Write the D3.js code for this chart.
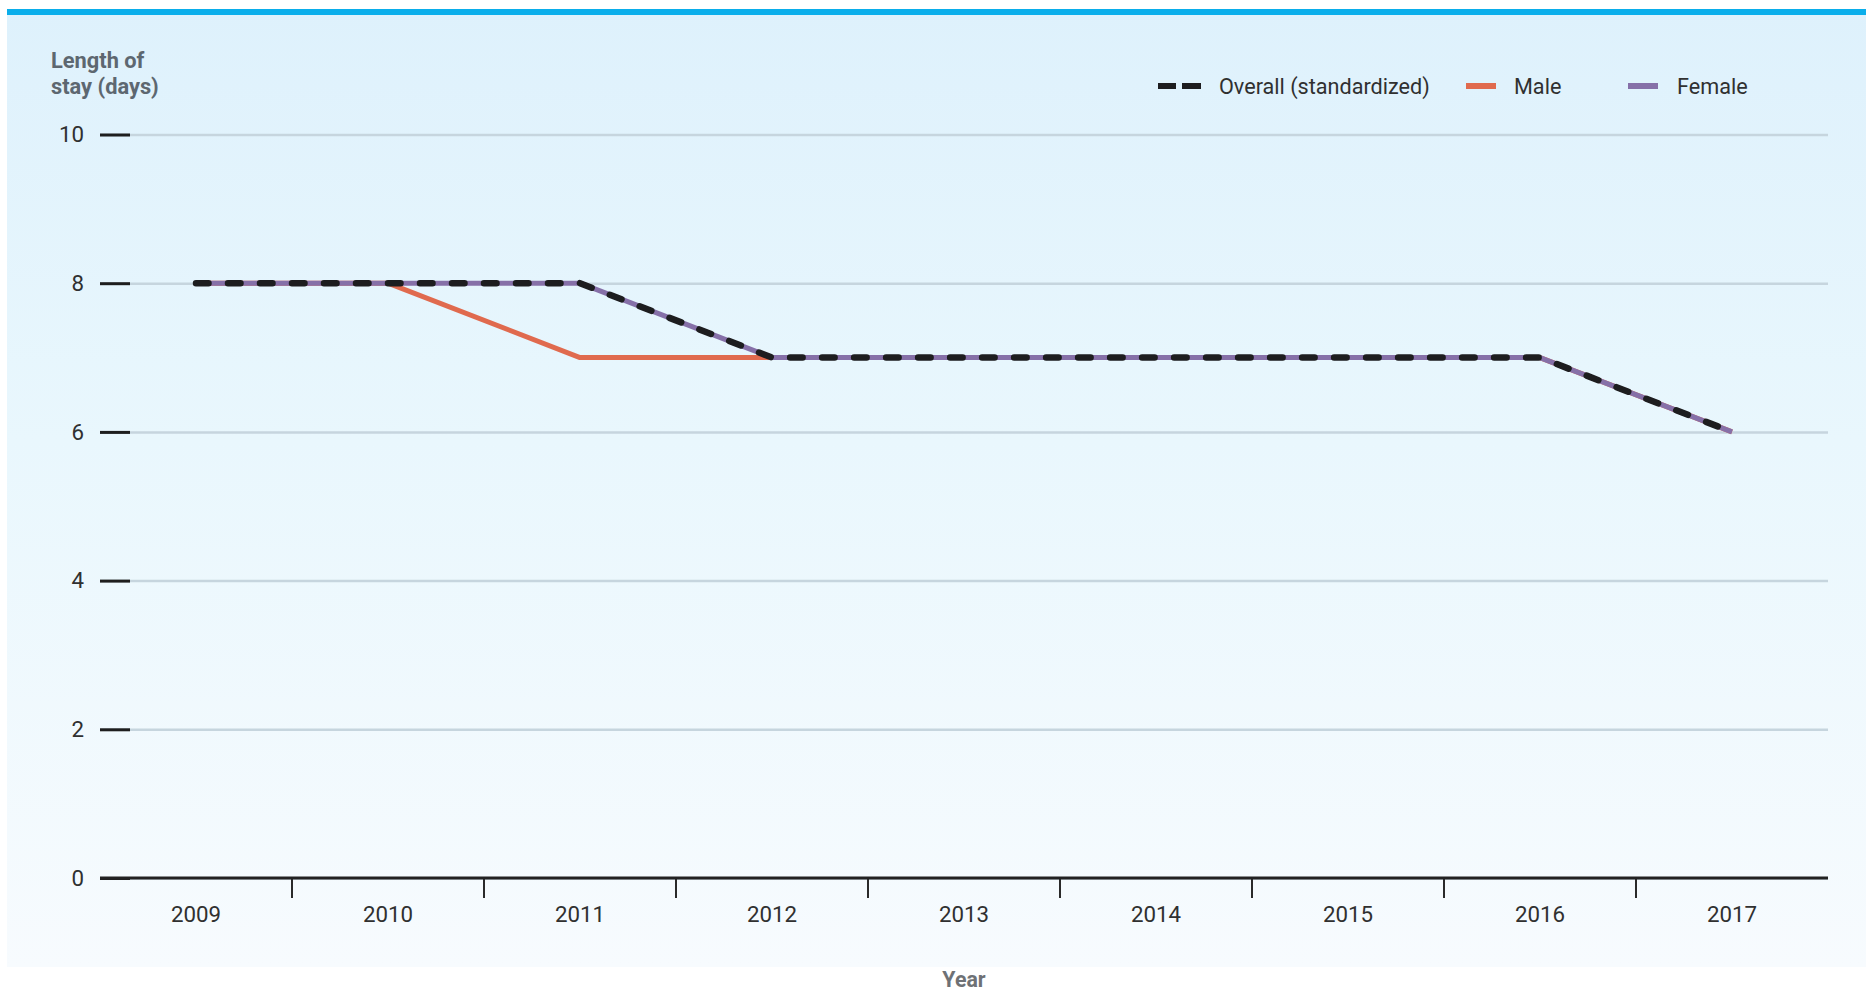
<!DOCTYPE html>
<html>
<head>
<meta charset="utf-8">
<script src="https://cdn.jsdelivr.net/npm/d3@7/dist/d3.min.js"></script>
<style>
  html, body { margin: 0; padding: 0; background: #ffffff; }
  svg { display: block; }
  text { font-family: Roboto, "Noto Sans", sans-serif; }
</style>
</head>
<body>
<svg id="chart" width="1866" height="993"></svg>
<script>
// Average length of stay (days) by year
const years = ["2009", "2010", "2011", "2012", "2013", "2014", "2015", "2016", "2017"];
const overall = [8, 8, 8, 7, 7, 7, 7, 7, 6];
const male    = [8, 8, 7, 7, 7, 7, 7, 7, 6];
const female  = [8, 8, 8, 7, 7, 7, 7, 7, 6];
const yTicks  = [0, 2, 4, 6, 8, 10];
const legendLabels = ["Overall (standardized)", "Male", "Female"];

const W = 1866, H = 993;
const plot = { left: 100, right: 1828, top: 134.5, bottom: 878 };
const SX = 0.97; // slight horizontal condensing for a narrower typeface look

const colors = { overall: "#1d1d1f", male: "#e06a4e", female: "#8670a8" };

const svg = d3.select("#chart");

// background panel with soft vertical gradient
const defs = svg.append("defs");
const grad = defs.append("linearGradient")
  .attr("id", "panelGrad").attr("x1", 0).attr("y1", 0).attr("x2", 0).attr("y2", 1);
grad.append("stop").attr("offset", "0%").attr("stop-color", "#def1fc");
grad.append("stop").attr("offset", "45%").attr("stop-color", "#e9f7fd");
grad.append("stop").attr("offset", "100%").attr("stop-color", "#f7fbfe");

svg.append("rect").attr("x", 7).attr("y", 9).attr("width", W - 7).attr("height", 958)
  .attr("fill", "url(#panelGrad)");
svg.append("rect").attr("x", 7).attr("y", 9).attr("width", W - 7).attr("height", 6)
  .attr("fill", "#0aaeeb");

const x = d3.scaleBand().domain(years).range([plot.left, plot.right]);
const y = d3.scaleLinear().domain([0, 10]).range([plot.bottom, plot.top]);

// y axis: full-width gridlines, short dark ticks, labels
const yAxis = d3.axisLeft(y)
  .tickValues(yTicks)
  .tickSize(-(plot.right - plot.left))
  .tickPadding(16 / SX)
  .tickFormat(d3.format("d"));

const gy = svg.append("g").attr("transform", `translate(${plot.left},0)`).call(yAxis);
gy.select(".domain").remove();
gy.selectAll(".tick line")
  .attr("stroke", "#c6d5de").attr("stroke-width", 2.5);
gy.selectAll(".tick").append("line")
  .attr("x1", 0).attr("x2", 30).attr("stroke", "#1e1e1e").attr("stroke-width", 3);
gy.selectAll(".tick text")
  .attr("fill", "#303030").attr("font-size", 23).attr("font-family", "Roboto, sans-serif")
  .attr("transform", `scale(${SX},1)`);

// x axis: year labels centred in bands, separators at band edges
const xAxis = d3.axisBottom(x).tickSize(0).tickPadding(28);
const gx = svg.append("g").attr("transform", `translate(0,${plot.bottom})`).call(xAxis);
gx.select(".domain").remove();
gx.selectAll(".tick text")
  .attr("fill", "#303030").attr("font-size", 23).attr("font-family", "Roboto, sans-serif")
  .attr("transform", `scale(${SX},1)`).attr("x", 0);

gx.selectAll(".sep").data(years.slice(1)).enter().append("line")
  .attr("class", "sep")
  .attr("x1", d => x(d)).attr("x2", d => x(d))
  .attr("y1", 0).attr("y2", 20)
  .attr("stroke", "#2a2a2a").attr("stroke-width", 2);

gx.append("line")
  .attr("x1", plot.left).attr("x2", plot.right).attr("y1", 0).attr("y2", 0)
  .attr("stroke", "#222").attr("stroke-width", 3);

// series lines
const line = d3.line()
  .x((d, i) => x(years[i]) + x.bandwidth() / 2)
  .y(d => y(d));

const series = svg.append("g");
series.append("path").datum(male)
  .attr("d", line).attr("fill", "none")
  .attr("stroke", colors.male).attr("stroke-width", 5).attr("stroke-linejoin", "round");
series.append("path").datum(female)
  .attr("d", line).attr("fill", "none")
  .attr("stroke", colors.female).attr("stroke-width", 5).attr("stroke-linejoin", "round");
series.append("path").datum(overall)
  .attr("d", line).attr("fill", "none")
  .attr("stroke", colors.overall).attr("stroke-width", 6.5)
  .attr("stroke-dasharray", "12.5 19.5").attr("stroke-linecap", "round")
  .attr("stroke-linejoin", "round");

// titles
function condensedText(g, tx, ty, str, opts) {
  return g.append("text")
    .attr("transform", `translate(${tx},${ty}) scale(${SX},1)`)
    .attr("font-size", opts.size)
    .attr("font-weight", opts.weight || 400)
    .attr("fill", opts.fill)
    .attr("text-anchor", opts.anchor || "start")
    .text(str);
}

condensedText(svg, 51, 68, "Length of", { size: 22.5, weight: 700, fill: "#5d6770" });
condensedText(svg, 51, 94, "stay (days)", { size: 22.5, weight: 700, fill: "#5d6770" });
condensedText(svg, (plot.left + plot.right) / 2, 987, "Year",
  { size: 22, weight: 700, fill: "#6e7175", anchor: "middle" });

// legend
const legend = svg.append("g");
const ly = 86;
legend.append("rect").attr("x", 1158).attr("y", ly - 3).attr("width", 18).attr("height", 6)
  .attr("fill", colors.overall);
legend.append("rect").attr("x", 1182).attr("y", ly - 3).attr("width", 19).attr("height", 6)
  .attr("fill", colors.overall);
condensedText(legend, 1219, ly + 8, legendLabels[0], { size: 22.3, fill: "#303030" });

legend.append("rect").attr("x", 1466).attr("y", ly - 3).attr("width", 30).attr("height", 6)
  .attr("fill", colors.male);
condensedText(legend, 1514, ly + 8, legendLabels[1], { size: 22.3, fill: "#303030" });

legend.append("rect").attr("x", 1628).attr("y", ly - 3).attr("width", 30).attr("height", 6)
  .attr("fill", colors.female);
condensedText(legend, 1677, ly + 8, legendLabels[2], { size: 22.3, fill: "#303030" });
</script>
</body>
</html>
